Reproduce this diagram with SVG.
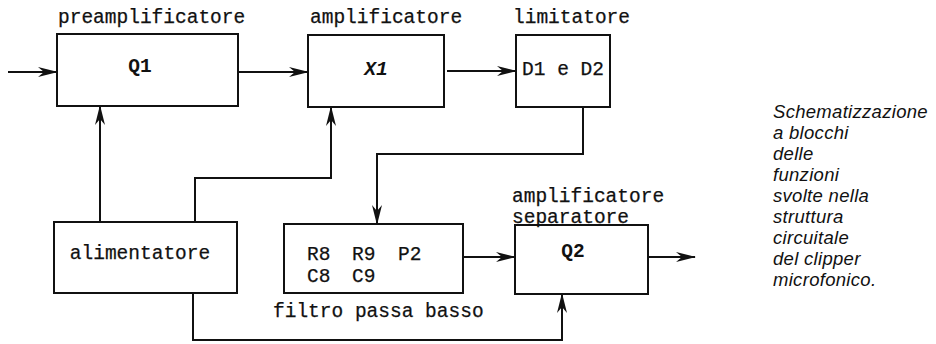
<svg xmlns="http://www.w3.org/2000/svg" width="936" height="344" viewBox="0 0 936 344">
<style>
.box{fill:none;stroke:#111;stroke-width:2}
.wire{fill:none;stroke:#111;stroke-width:2}
.t{font-family:"Liberation Mono","DejaVu Sans Mono",monospace;font-size:19.5px;fill:#111;stroke:#111;stroke-width:0.25}
.b{font-weight:bold;stroke-width:0}
.cap{font-family:"Liberation Sans",Arial,sans-serif;font-style:italic;font-size:18.5px;letter-spacing:0.3px;fill:#111}
</style>
<defs>
<marker id="ah" viewBox="0 0 20 11" refX="19" refY="5.5" markerWidth="20" markerHeight="11" markerUnits="userSpaceOnUse" orient="auto">
<path d="M0,0.5 L20,5.5 L0,10.5 L6,5.5 Z" fill="#111"/>
</marker>
</defs>
<rect width="936" height="344" fill="#fff"/>
<g id="connectors">
<path class="wire" d="M8,72 H57" marker-end="url(#ah)"/>
<path class="wire" d="M238,72 H308" marker-end="url(#ah)"/>
<path class="wire" d="M447,71 H516" marker-end="url(#ah)"/>
<path class="wire" d="M583,107 V154 H377 V224" marker-end="url(#ah)"/>
<path class="wire" d="M100,222 V106" marker-end="url(#ah)"/>
<path class="wire" d="M195,222 V178 H331 V107" marker-end="url(#ah)"/>
<path class="wire" d="M193,293 V340 H562 V294" marker-end="url(#ah)"/>
<path class="wire" d="M463,257 H515" marker-end="url(#ah)"/>
<path class="wire" d="M648,257 H695" marker-end="url(#ah)"/>
</g>
<g id="preamplificatore">
<rect class="box" x="57" y="34" width="181" height="72"/>
<text class="t" x="58" y="23">preamplificatore</text>
<text class="t b" x="140" y="72" text-anchor="middle">Q1</text>
</g>
<g id="amplificatore">
<rect class="box" x="308" y="35" width="136" height="72"/>
<text class="t" x="310" y="23">amplificatore</text>
<text class="t b" x="376" y="75" text-anchor="middle" font-style="italic">X1</text>
</g>
<g id="limitatore">
<rect class="box" x="516" y="35" width="94" height="72"/>
<text class="t" x="513" y="23">limitatore</text>
<text class="t" x="563" y="75" text-anchor="middle">D1 e D2</text>
</g>
<g id="alimentatore">
<rect class="box" x="54" y="222" width="183" height="71"/>
<text class="t" x="140" y="259" text-anchor="middle">alimentatore</text>
</g>
<g id="filtro">
<rect class="box" x="284" y="224" width="179" height="69"/>
<text class="t" x="307" y="260">R8</text>
<text class="t" x="352" y="260">R9</text>
<text class="t" x="398" y="260">P2</text>
<text class="t" x="307" y="282">C8</text>
<text class="t" x="352" y="282">C9</text>
<text class="t" x="273" y="317">filtro passa basso</text>
</g>
<g id="separatore">
<rect class="box" x="515" y="225" width="133" height="69"/>
<text class="t" x="512" y="202">amplificatore</text>
<text class="t" x="512" y="223">separatore</text>
<text class="t b" x="573" y="257" text-anchor="middle">Q2</text>
</g>
<g id="caption">
<text class="cap" x="773" y="118">Schematizzazione</text>
<text class="cap" x="773" y="139">a blocchi</text>
<text class="cap" x="773" y="160">delle</text>
<text class="cap" x="773" y="181">funzioni</text>
<text class="cap" x="773" y="202">svolte nella</text>
<text class="cap" x="773" y="223">struttura</text>
<text class="cap" x="773" y="244">circuitale</text>
<text class="cap" x="773" y="265">del clipper</text>
<text class="cap" x="773" y="286">microfonico.</text>
</g>
</svg>
